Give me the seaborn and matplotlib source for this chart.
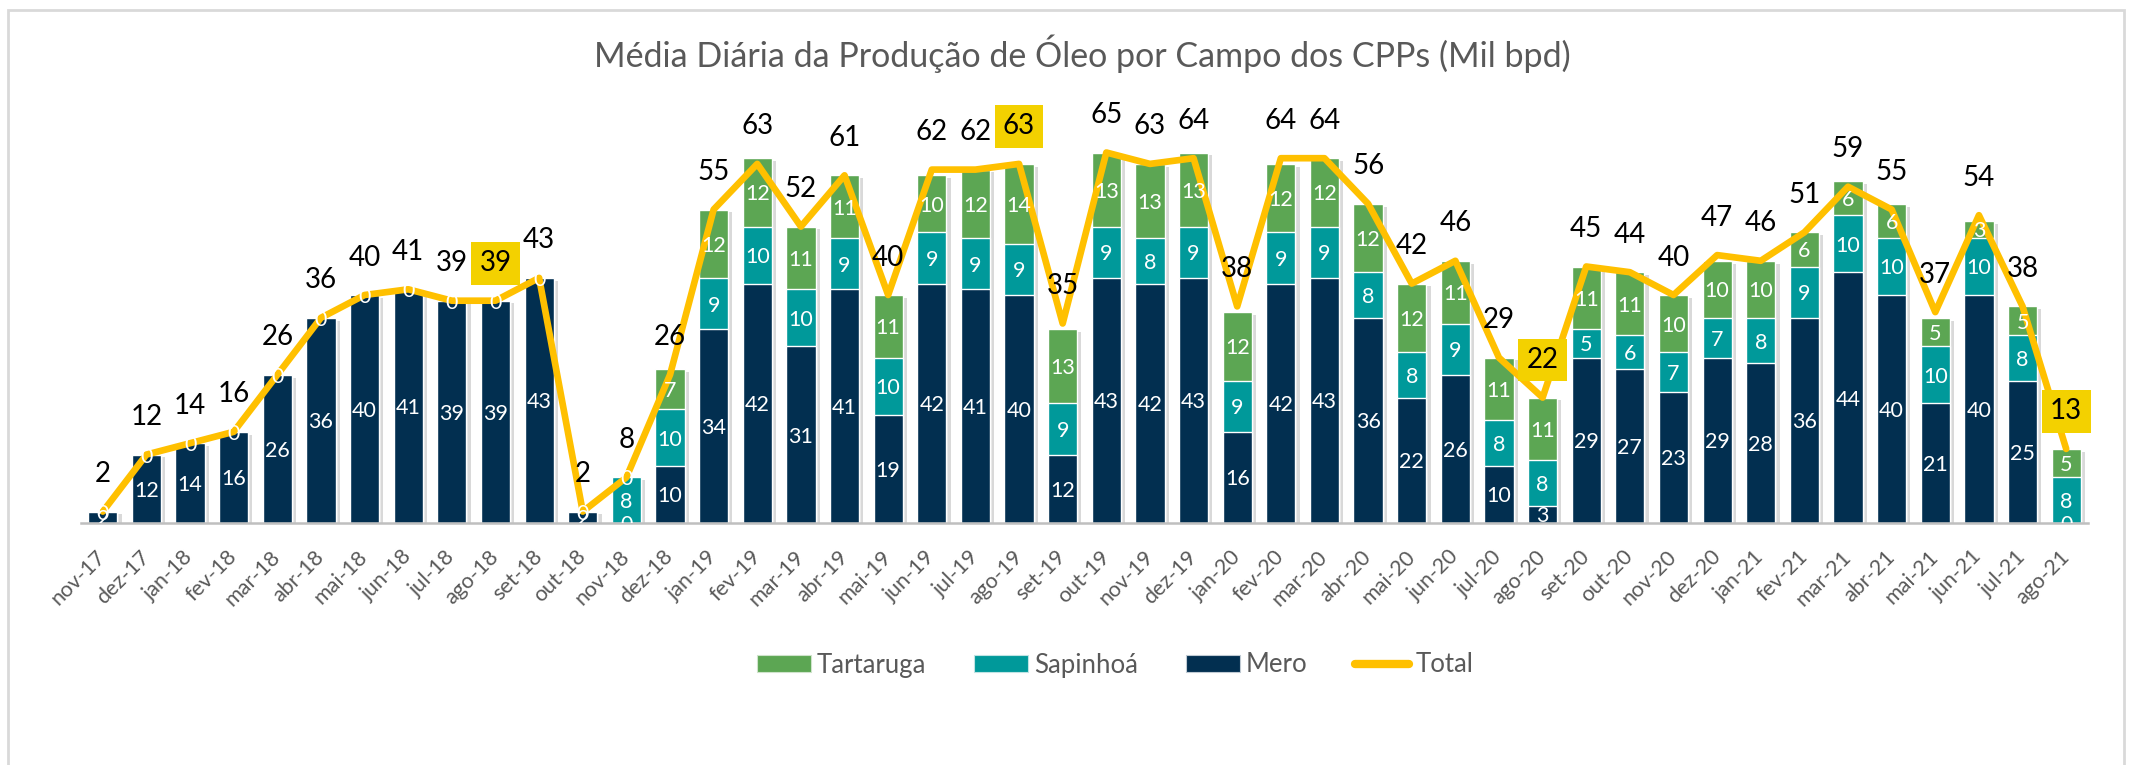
import numpy as np
import pandas as pd
import matplotlib
matplotlib.use("Agg")
import matplotlib.pyplot as plt
import seaborn as sns
from matplotlib.patches import Patch, Rectangle
from matplotlib.lines import Line2D
import matplotlib.patheffects as pe

# ---------------- data ----------------
months = ["nov-17", "dez-17",
          "jan-18", "fev-18", "mar-18", "abr-18", "mai-18", "jun-18", "jul-18", "ago-18", "set-18", "out-18", "nov-18", "dez-18",
          "jan-19", "fev-19", "mar-19", "abr-19", "mai-19", "jun-19", "jul-19", "ago-19", "set-19", "out-19", "nov-19", "dez-19",
          "jan-20", "fev-20", "mar-20", "abr-20", "mai-20", "jun-20", "jul-20", "ago-20", "set-20", "out-20", "nov-20", "dez-20",
          "jan-21", "fev-21", "mar-21", "abr-21", "mai-21", "jun-21", "jul-21", "ago-21"]
mero = [2, 12,
        14, 16, 26, 36, 40, 41, 39, 39, 43, 2, 0, 10,
        34, 42, 31, 41, 19, 42, 41, 40, 12, 43, 42, 43,
        16, 42, 43, 36, 22, 26, 10, 3, 29, 27, 23, 29,
        28, 36, 44, 40, 21, 40, 25, 0]
sapinhoa = [0, 0,
            0, 0, 0, 0, 0, 0, 0, 0, 0, 0, 8, 10,
            9, 10, 10, 9, 10, 9, 9, 9, 9, 9, 8, 9,
            9, 9, 9, 8, 8, 9, 8, 8, 5, 6, 7, 7,
            8, 9, 10, 10, 10, 10, 8, 8]
tartaruga = [0, 0,
             0, 0, 0, 0, 0, 0, 0, 0, 0, 0, 0, 7,
             12, 12, 11, 11, 11, 10, 12, 14, 13, 13, 13, 13,
             12, 12, 12, 12, 12, 11, 11, 11, 11, 11, 10, 10,
             10, 6, 6, 6, 5, 3, 5, 5]
total = [2, 12,
         14, 16, 26, 36, 40, 41, 39, 39, 43, 2, 8, 26,
         55, 63, 52, 61, 40, 62, 62, 63, 35, 65, 63, 64,
         38, 64, 64, 56, 42, 46, 29, 22, 45, 44, 40, 47,
         46, 51, 59, 55, 37, 54, 38, 13]
highlight = ["ago-18", "ago-19", "ago-20", "ago-21"]

title = "Média Diária da Produção de Óleo por Campo dos CPPs (Mil bpd)"

C_MERO = "#022F50"
C_SAP = "#00999A"
C_TART = "#5CA653"
C_LINE = "#FFC000"
C_HL = "#F3D100"
C_GREY = "#595959"

# ---------------- figure ----------------
sns.set_theme(style="white")
plt.rcParams["font.family"] = ["Lato", "DejaVu Sans"]

W, H = 2129, 765
fig = plt.figure(figsize=(W / 100, H / 100), dpi=100)
fig.patch.set_facecolor("white")
ax = fig.add_axes([81 / W, 1 - 523 / H, (2088 - 81) / W, (523 - 124) / H])

df = pd.DataFrame({"mes": months, "Mero": mero, "Sapinhoa": sapinhoa,
                   "Tartaruga": tartaruga, "Total": total})
df["top2"] = df["Mero"] + df["Sapinhoa"]
df["top3"] = df["top2"] + df["Tartaruga"]

bw = 0.67
sns.barplot(data=df, x="mes", y="top3", order=months, color=C_TART, saturation=1,
            width=bw, errorbar=None, ax=ax)
for p in ax.patches:
    p.set_path_effects([pe.SimplePatchShadow(offset=(3, -2), shadow_rgbFace="#000000", alpha=0.15),
                        pe.Normal()])
sns.barplot(data=df, x="mes", y="top2", order=months, color=C_SAP, saturation=1,
            width=bw, errorbar=None, ax=ax)
sns.barplot(data=df, x="mes", y="Mero", order=months, color=C_MERO, saturation=1,
            width=bw, errorbar=None, ax=ax)

xpos = np.arange(len(months))
sns.lineplot(x=xpos, y=df["Total"], color=C_LINE, linewidth=4.8, sort=False, ax=ax, zorder=5)

# segment labels (a zero Sapinhoá label sits exactly under a zero Tartaruga label)
for i in range(len(months)):
    b = 0
    for k, v in enumerate((mero[i], sapinhoa[i], tartaruga[i])):
        if not (k == 1 and v == 0 and tartaruga[i] == 0):
            ax.text(i, b + v / 2, str(v), ha="center", va="center_baseline", color="white",
                    fontsize=15.5, clip_on=True, zorder=6)
        b += v

# total labels
for i, (m, v) in enumerate(zip(months, total)):
    kw = {}
    if m in highlight:
        kw["bbox"] = dict(boxstyle="square,pad=0.3", fc=C_HL, ec="none")
    ax.annotate(str(v), xy=(i, v), xytext=(0, 27), textcoords="offset points",
                ha="center", va="center", fontsize=20, color="black", zorder=7, **kw)

ax.set_xlim(-0.5, len(months) - 0.5)
ax.set_ylim(0, 70)
ax.set_yticks([])
ax.set_xlabel("")
ax.set_ylabel("")
ax.set_xticks(xpos)
ax.set_xticklabels(months, rotation=45, ha="right", va="center", rotation_mode="anchor",
                   fontsize=15.5, color=C_GREY)
ax.tick_params(axis="x", length=0, pad=22)
for s in ("left", "top", "right"):
    ax.spines[s].set_visible(False)
ax.spines["bottom"].set_color("#BFBFBF")
ax.spines["bottom"].set_linewidth(1.8)
ax.spines["bottom"].set_zorder(4)

fig.text(1082 / W, 1 - 54 / H, title, ha="center", va="center", fontsize=24.5, color=C_GREY)

handles = [Patch(facecolor=C_TART, edgecolor="#CFE3CB", linewidth=0.8),
           Patch(facecolor=C_SAP, edgecolor="#BFE3E3", linewidth=0.8),
           Patch(facecolor=C_MERO, edgecolor="#C0CAD3", linewidth=0.8),
           Line2D([0], [0], color=C_LINE, linewidth=6, solid_capstyle="round")]
labels = ["Tartaruga", "Sapinhoá", "Mero", "Total"]
fig.legend(handles, labels, loc="center", bbox_to_anchor=(1115 / W, 1 - 665 / H), ncol=4,
           frameon=False, fontsize=18.5, handlelength=2.1, handleheight=0.66,
           columnspacing=1.85, handletextpad=0.25, labelcolor=C_GREY)

fig.add_artist(Rectangle((8 / W, -0.05), (2124 - 8) / W, (H - 10) / H + 0.05,
                         transform=fig.transFigure, fill=False, ec="#D9D9D9", lw=2))

fig.savefig("out.png", dpi=100)
